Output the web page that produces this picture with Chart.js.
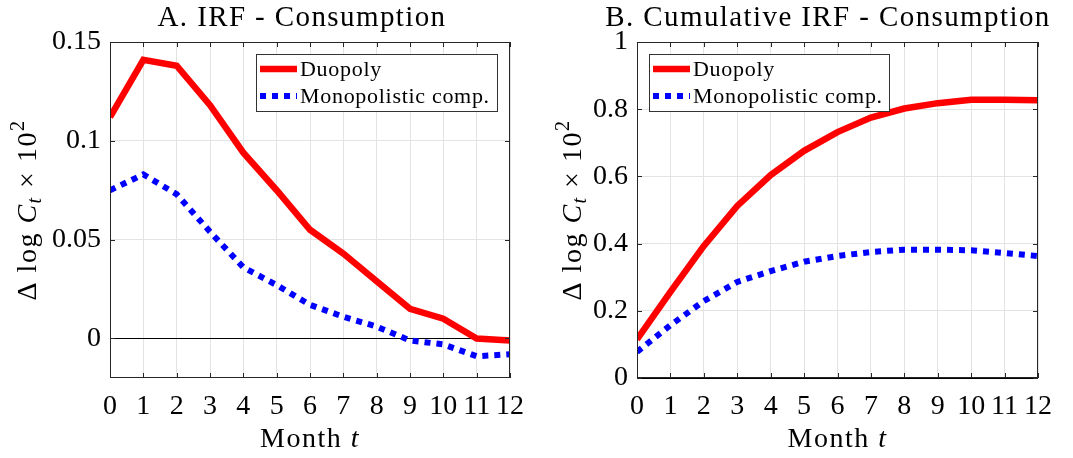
<!DOCTYPE html>
<html>
<head>
<meta charset="utf-8">
<script src="https://cdn.jsdelivr.net/npm/chart.js@4.4.1/dist/chart.umd.min.js"></script>
<style>
  html, body { margin: 0; padding: 0; background: #fff; }
  #wrap { position: relative; width: 1073px; height: 458px; }
  .panel { position: absolute; top: 0; height: 458px; }
  #left { left: 0; width: 536px; }
  #right { left: 536px; width: 537px; }
</style>
</head>
<body>
<div id="wrap">
  <div class="panel" id="left"><canvas id="irf"></canvas></div>
  <div class="panel" id="right"><canvas id="cum"></canvas></div>
</div>
<script>
// months after the shock
const months = ['0', '1', '2', '3', '4', '5', '6', '7', '8', '9', '10', '11', '12'];

// impulse response of consumption (x 100)
const irfDuopoly = [0.112, 0.141, 0.138, 0.118, 0.094, 0.075, 0.055, 0.043, 0.029, 0.015, 0.010, 0.000, -0.001];
const irfMonopolistic = [0.075, 0.083, 0.073, 0.054, 0.036, 0.027, 0.017, 0.011, 0.006, -0.001, -0.003, -0.009, -0.008];

// cumulative response
const cumDuopoly = [0.115, 0.256, 0.393, 0.512, 0.604, 0.676, 0.732, 0.775, 0.802, 0.818, 0.828, 0.828, 0.827];
const cumMonopolistic = [0.078, 0.157, 0.229, 0.286, 0.318, 0.346, 0.363, 0.375, 0.382, 0.382, 0.380, 0.372, 0.363];

const irfTicks = [0, 0.05, 0.1, 0.15];
const cumTicks = [0, 0.2, 0.4, 0.6, 0.8, 1];

const seriesNames = ['Duopoly', 'Monopolistic comp.'];

const SERIF = '"Liberation Serif", "DejaVu Serif", serif';
const AXIS_COLOR = '#262626';
const GRID_COLOR = '#e3e3e3';

function datasets(duo, mono) {
  return [
    {
      label: seriesNames[0], data: duo,
      borderColor: '#ff0000', borderWidth: 6.5, pointRadius: 0,
      borderCapStyle: 'butt', borderJoinStyle: 'miter', tension: 0, clip: 0
    },
    {
      label: seriesNames[1], data: mono,
      borderColor: '#0000ff', borderWidth: 6, borderDash: [6, 6], pointRadius: 0,
      borderCapStyle: 'butt', tension: 0, clip: 0
    }
  ];
}

// title, axis labels, box, inward ticks and legend
const decorations = {
  id: 'decorations',
  afterDatasetsDraw(chart, args, opts) {
    const { ctx, chartArea: a } = chart;
    const xs = chart.scales.x, ys = chart.scales.y;
    ctx.save();

    // box
    ctx.strokeStyle = AXIS_COLOR;
    ctx.lineWidth = 1;
    ctx.strokeRect(a.left + 0.5, a.top + 0.5, a.right - a.left - 1, a.bottom - a.top - 1);

    // inward ticks on all four sides
    const tl = 5;
    ctx.beginPath();
    xs.ticks.forEach((t, i) => {
      const px = Math.round(xs.getPixelForTick(i)) + 0.5;
      ctx.moveTo(px, a.bottom); ctx.lineTo(px, a.bottom - tl);
      ctx.moveTo(px, a.top); ctx.lineTo(px, a.top + tl);
    });
    ys.ticks.forEach((t, i) => {
      const py = Math.round(ys.getPixelForTick(i)) + 0.5;
      ctx.moveTo(a.left, py); ctx.lineTo(a.left + tl, py);
      ctx.moveTo(a.right, py); ctx.lineTo(a.right - tl, py);
    });
    ctx.stroke();

    // title
    ctx.fillStyle = '#000';
    ctx.font = '29px ' + SERIF;
    ctx.letterSpacing = '1.4px';
    ctx.textAlign = 'center';
    ctx.textBaseline = 'alphabetic';
    ctx.fillText(opts.title, opts.titleX, 26);

    // x axis label: Month t
    ctx.textAlign = 'left';
    ctx.letterSpacing = '1.5px';
    const p1 = 'Month ';
    ctx.font = '28px ' + SERIF;
    const w1 = ctx.measureText(p1).width;
    ctx.font = 'italic 28px ' + SERIF;
    const w2 = ctx.measureText('t').width;
    let x0 = (a.left + a.right) / 2 - (w1 + w2) / 2;
    ctx.font = '28px ' + SERIF;
    ctx.fillText(p1, x0, 447);
    ctx.font = 'italic 28px ' + SERIF;
    ctx.fillText('t', x0 + w1, 447);

    // y axis label: Δ log C_t × 10^2
    const parts = [
      { t: 'Δ log ', f: '28px ' + SERIF, dy: 0 },
      { t: 'C', f: 'italic 28px ' + SERIF, dy: 0 },
      { t: 't', f: 'italic 20px ' + SERIF, dy: 5 },
      { t: ' × 10', f: '28px ' + SERIF, dy: 0 },
      { t: '2', f: '20px ' + SERIF, dy: -12 }
    ];
    let total = 0;
    parts.forEach(p => { ctx.font = p.f; p.w = ctx.measureText(p.t).width; total += p.w; });
    ctx.translate(opts.yLabelX, (a.top + a.bottom) / 2);
    ctx.rotate(-Math.PI / 2);
    let cx = -total / 2;
    parts.forEach(p => { ctx.font = p.f; ctx.fillText(p.t, cx, p.dy); cx += p.w; });
    ctx.setTransform(1, 0, 0, 1, 0, 0);

    // legend
    const lg = opts.legend;
    const lx = lg.fromRight ? a.right - lg.offset - lg.w : a.left + lg.offset;
    const ly = 54;
    ctx.fillStyle = '#fff';
    ctx.fillRect(lx, ly, lg.w, 58);
    ctx.strokeStyle = '#333';
    ctx.strokeRect(lx + 0.5, ly + 0.5, lg.w - 1, 57);
    ctx.letterSpacing = '0.7px';
    chart.data.datasets.forEach((ds, i) => {
      const yy = ly + 15 + i * 27;
      ctx.beginPath();
      ctx.strokeStyle = ds.borderColor;
      ctx.lineWidth = ds.borderWidth;
      ctx.lineCap = 'butt';
      ctx.setLineDash(ds.borderDash || []);
      ctx.moveTo(lx + 4, yy);
      ctx.lineTo(lx + 41, yy);
      ctx.stroke();
      ctx.setLineDash([]);
      ctx.fillStyle = '#000';
      ctx.font = '22px ' + SERIF;
      ctx.textAlign = 'left';
      ctx.textBaseline = 'middle';
      ctx.fillText(ds.label, lx + 44, yy + 1);
    });
    ctx.letterSpacing = '0px';
    ctx.restore();
  }
};

function makeChart(id, duo, mono, yMin, yMax, yTicks, pad, yWidth, deco) {
  return new Chart(document.getElementById(id), {
    type: 'line',
    data: { labels: months, datasets: datasets(duo, mono) },
    options: {
      responsive: true,
      maintainAspectRatio: false,
      animation: false,
      layout: { padding: pad },
      plugins: {
        legend: { display: false },
        tooltip: { enabled: false },
        decorations: deco
      },
      scales: {
        x: {
          type: 'category',
          offset: false,
          grid: { color: GRID_COLOR, offset: false, drawTicks: false },
          border: { display: false },
          ticks: {
            color: '#000', padding: 12, maxRotation: 0, autoSkip: false,
            font: { family: SERIF, size: 28 }
          },
          afterFit: s => { s.height = 80; }
        },
        y: {
          min: yMin, max: yMax,
          grid: {
            drawTicks: false,
            color: c => (c.tick && c.tick.value === 0 ? '#000' : GRID_COLOR)
          },
          border: { display: false },
          afterBuildTicks: s => { s.ticks = yTicks.map(v => ({ value: v })); },
          ticks: {
            color: '#000', padding: 9,
            font: { family: SERIF, size: 28 },
            callback: v => String(v)
          },
          afterFit: s => { s.width = yWidth; }
        }
      }
    },
    plugins: [decorations]
  });
}

makeChart('irf', irfDuopoly, irfMonopolistic, -0.02, 0.15, irfTicks,
  { left: 0, right: 26, top: 42, bottom: 0 }, 110,
  { title: 'A. IRF - Consumption', titleX: 302, yLabelX: 36, legend: { fromRight: true, offset: 12, w: 242 } });

makeChart('cum', cumDuopoly, cumMonopolistic, 0, 1, cumTicks,
  { left: 0, right: 35, top: 42, bottom: 0 }, 101,
  { title: 'B. Cumulative IRF - Consumption', titleX: 292, yLabelX: 45, legend: { fromRight: false, offset: 12, w: 241 } });
</script>
</body>
</html>
